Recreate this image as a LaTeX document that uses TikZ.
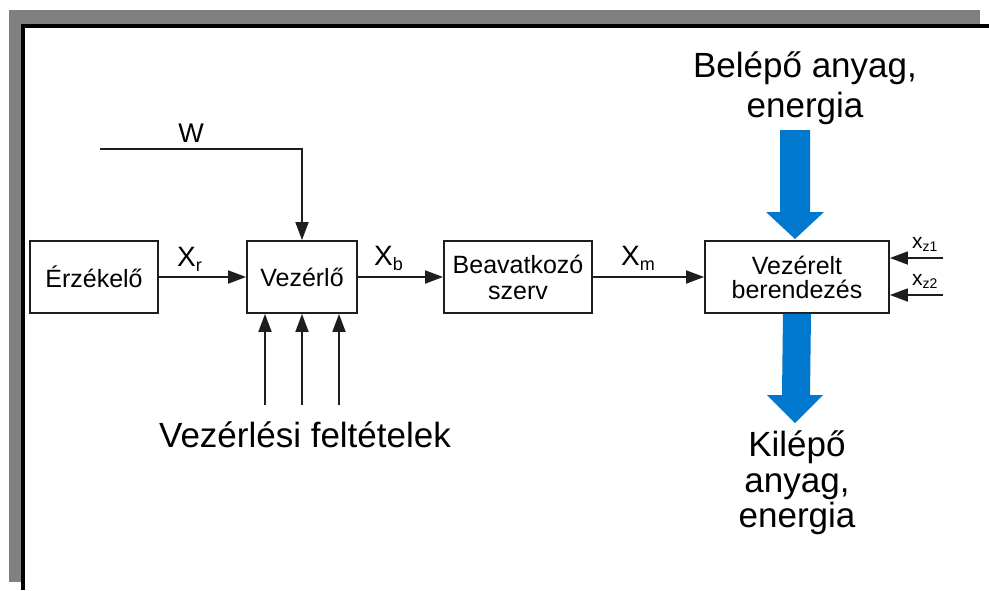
\documentclass[tikz,border=0pt]{standalone}
\usepackage{fontspec}
\setmainfont{Liberation Sans}
\usetikzlibrary{arrows.meta}
\definecolor{flowblue}{RGB}{0,120,205}
\definecolor{framegray}{RGB}{128,128,128}
\definecolor{ink}{RGB}{30,30,30}
\begin{document}
\begin{tikzpicture}[x=1pt,y=-1pt,
  blk/.style={draw=ink, line width=1.8pt, minimum height=72pt, inner sep=0pt,
    align=center, font=\fontsize{25}{27}\selectfont},
  conn/.style={draw=ink, line width=1.8pt, -{Triangle[length=18pt,width=13pt]}},
  sig/.style={inner sep=0pt, anchor=base west, font=\fontsize{28}{30}\selectfont},
  sigsmall/.style={inner sep=0pt, anchor=base west, font=\fontsize{21}{23}\selectfont},
  biglbl/.style={inner sep=0pt, align=center, anchor=base, font=\fontsize{35}{38}\selectfont},
  flow/.style={fill=flowblue, draw=none}
]
\useasboundingbox (0,0) rectangle (989,590);
% frame
\fill[framegray] (9,10) rectangle (980,24);
\fill[framegray] (9,10) rectangle (21,582);
\draw[black, line width=4pt] (989,26) -- (23,26) -- (23,590);

% blocks
\node[blk, minimum width=128pt] (erz) at (94,277) {Érzékelő};
\node[blk, minimum width=110pt] (vez) at (302,277) {Vezérlő};
\node[blk, minimum width=148pt] (bea) at (518,277) {Beavatkozó\\[-1pt]szerv};
\node[blk, minimum width=184pt] (ved) at (797,277) {Vezérelt\\[-3pt]berendezés};

% main chain
\draw[conn] (erz) -- (vez);
\draw[conn] (vez) -- (bea);
\draw[conn] (bea) -- (ved);

\node[sig] (xr) at (177,266) {X\raisebox{-5pt}{\fontsize{18}{18}\selectfont r}};
\node[sig] (xb) at (374,265) {X\raisebox{-5pt}{\fontsize{18}{18}\selectfont b}};
\node[sig] (xm) at (621,265) {X\raisebox{-5pt}{\fontsize{18}{18}\selectfont m}};

% w input
\coordinate (wstart) at (100,149);
\draw[conn] (wstart) -| (vez.north);
\node[inner sep=0pt, anchor=base, font=\fontsize{27}{29}\selectfont] (wl) at (191,142) {W};

% control conditions
\coordinate (c1) at (265,405);
\coordinate (c2) at (302,405);
\coordinate (c3) at (339,405);
\draw[conn] (c1) -- (c1 |- vez.south);
\draw[conn] (c2) -- (c2 |- vez.south);
\draw[conn] (c3) -- (c3 |- vez.south);
\node[biglbl] (vf) at (305,447) {Vezérlési feltételek};

% disturbances
\coordinate (z1) at (943,258);
\coordinate (z2) at (943,295);
\draw[conn] (z1) -- (z1 -| ved.east);
\draw[conn] (z2) -- (z2 -| ved.east);
\node[sigsmall] (xz1) at (912,248) {x\raisebox{-3pt}{\fontsize{14}{14}\selectfont z1}};
\node[sigsmall] (xz2) at (912,285) {x\raisebox{-3pt}{\fontsize{14}{14}\selectfont z2}};

% material / energy flows
\fill[flow] (780,130) -- (810,130) -- (810,212) -- (824,212) -- (795,239)
  -- (766,212) -- (780,212) -- cycle;
\fill[flow] ([xshift=-14pt]ved.south) -- ([xshift=14pt]ved.south) -- (810,395) -- (823,395)
  -- (795,423) -- (767,395) -- (782,395) -- cycle;

\node[biglbl] (in) at (805,117) {Belépő anyag,\\[2pt]energia};
\node[biglbl] (out) at (797,527) {Kilépő\\[-2pt]anyag,\\[-3pt]energia};
\end{tikzpicture}
\end{document}
